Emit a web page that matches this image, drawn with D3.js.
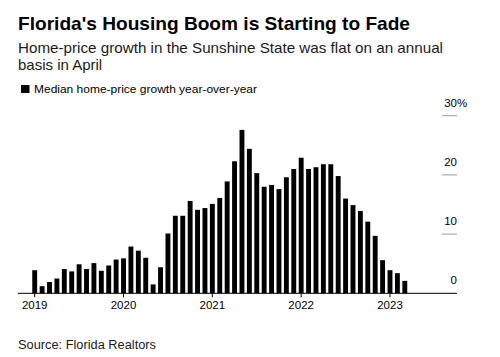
<!DOCTYPE html>
<html>
<head>
<meta charset="utf-8">
<script src="https://cdn.jsdelivr.net/npm/d3@7"></script>
<style>
  html, body { margin: 0; padding: 0; background: #fff; }
  svg { display: block; font-family: "Liberation Sans", Arial, Helvetica, sans-serif; }
</style>
</head>
<body>
<svg id="chart" width="500" height="357"></svg>
<script>
// ---- Data ----
const months = [
  "2019-01","2019-02","2019-03","2019-04","2019-05","2019-06","2019-07","2019-08","2019-09","2019-10","2019-11","2019-12",
  "2020-01","2020-02","2020-03","2020-04","2020-05","2020-06","2020-07","2020-08","2020-09","2020-10","2020-11","2020-12",
  "2021-01","2021-02","2021-03","2021-04","2021-05","2021-06","2021-07","2021-08","2021-09","2021-10","2021-11","2021-12",
  "2022-01","2022-02","2022-03","2022-04","2022-05","2022-06","2022-07","2022-08","2022-09","2022-10","2022-11","2022-12",
  "2023-01","2023-02","2023-03"
];
const growth = [
  3.9, 1.2, 1.9, 2.5, 4.1, 3.7, 4.9, 4.1, 5.1, 3.8, 4.7, 5.7,
  5.9, 7.9, 7.2, 6.0, 1.5, 4.4, 10.1, 13.1, 13.1, 15.6, 14.1, 14.4,
  15.1, 16.1, 18.9, 22.3, 27.6, 24.4, 20.3, 18.0, 18.3, 17.6, 19.6, 21.0,
  22.9, 21.0, 21.3, 21.8, 21.8, 19.8, 16.0, 14.9, 13.9, 12.1, 9.7, 5.6,
  3.9, 3.4, 2.1
];
const yearTicks = ["2019-01","2020-01","2021-01","2022-01","2023-01"];
const yTicks = [0, 10, 20, 30];

const title = "Florida's Housing Boom is Starting to Fade";
const subtitle = ["Home-price growth in the Sunshine State was flat on an annual", "basis in April"];
const legendLabel = "Median home-price growth year-over-year";
const source = "Source: Florida Realtors";

// ---- Drawing ----
const svg = d3.select("#chart");

const x = d3.scaleBand().domain(months).range([31.0, 408.5]).paddingInner(0.34).paddingOuter(0.17);
const y = d3.scaleLinear().domain([0, 30]).range([293.3, 115.7]);

// Title & subtitle
svg.append("text").attr("x", 18).attr("y", 29.5)
  .attr("font-size", 19).attr("font-weight", "bold").attr("fill", "#000")
  .attr("textLength", 392).attr("lengthAdjust", "spacingAndGlyphs")
  .text(title);
svg.append("text").attr("x", 18).attr("y", 52.5)
  .attr("font-size", 15).attr("fill", "#1a1a1a")
  .attr("textLength", 425).attr("lengthAdjust", "spacingAndGlyphs")
  .text(subtitle[0]);
svg.append("text").attr("x", 18).attr("y", 69.5)
  .attr("font-size", 15).attr("fill", "#1a1a1a")
  .text(subtitle[1]);

// Legend
svg.append("rect").attr("x", 21).attr("y", 85).attr("width", 8.5).attr("height", 8).attr("fill", "#000");
svg.append("text").attr("x", 34).attr("y", 93)
  .attr("font-size", 11).attr("fill", "#000")
  .attr("textLength", 223).attr("lengthAdjust", "spacingAndGlyphs")
  .text(legendLabel);

// Y gridline stubs and labels (right side)
const yAxisX1 = 442, yAxisX2 = 457;
yTicks.filter(d => d > 0).forEach(d => {
  svg.append("line").attr("x1", yAxisX1).attr("x2", yAxisX2)
    .attr("y1", y(d)).attr("y2", y(d))
    .attr("stroke", "#9a9a9a").attr("stroke-width", 1);
});
yTicks.forEach(d => {
  svg.append("text").attr("x", 457).attr("y", y(d) - 9)
    .attr("text-anchor", "end").attr("font-size", 11.5).attr("fill", "#000")
    .text(d);
  if (d === 30) {
    svg.append("text").attr("x", 457).attr("y", y(d) - 9)
      .attr("font-size", 11.5).attr("fill", "#000").text("%");
  }
});

// Bars
svg.append("g").selectAll("rect").data(months).join("rect")
  .attr("x", d => x(d))
  .attr("width", x.bandwidth())
  .attr("y", (d, i) => y(growth[i]))
  .attr("height", (d, i) => y(0) - y(growth[i]))
  .attr("fill", "#000");

// Baseline
svg.append("line").attr("x1", 18).attr("x2", 457)
  .attr("y1", y(0)).attr("y2", y(0))
  .attr("stroke", "#000").attr("stroke-width", 1);

// X axis ticks
const xAxis = d3.axisBottom(x).tickValues(yearTicks)
  .tickSize(4).tickPadding(4)
  .tickFormat(d => d.slice(0, 4));
const gx = svg.append("g").attr("transform", `translate(0,${y(0)})`).call(xAxis);
gx.select(".domain").remove();
gx.selectAll(".tick line").attr("stroke", "#000");
gx.selectAll(".tick text").attr("font-size", 11.5).attr("fill", "#000")
  .attr("font-family", "Liberation Sans, Arial, sans-serif");

// Source
svg.append("text").attr("x", 18).attr("y", 348.5)
  .attr("font-size", 12.5).attr("fill", "#1a1a1a")
  .attr("textLength", 138).attr("lengthAdjust", "spacingAndGlyphs")
  .text(source);
</script>
</body>
</html>
